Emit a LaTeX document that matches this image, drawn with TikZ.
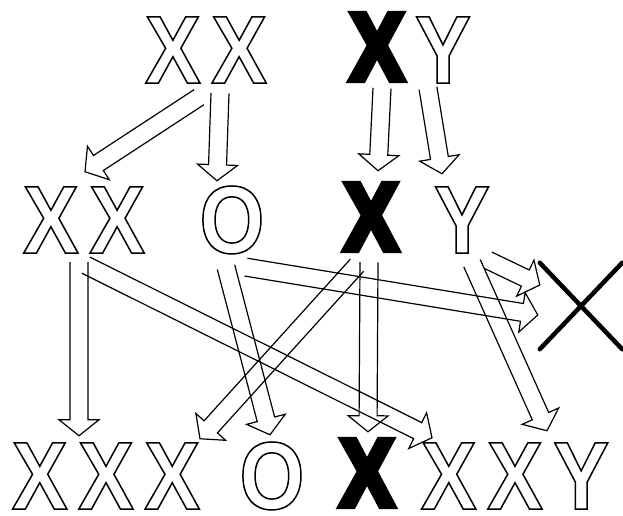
\documentclass[tikz,border=0pt]{standalone}
\usepackage{fontspec}
\usepackage{tikz}
\usetikzlibrary{calc,shapes.misc}
\newfontfamily\lettfont[FakeStretch=0.87,LetterSpace=11]{Liberation Sans Bold}
\newfontfamily\heavyfont[FakeStretch=0.84]{Liberation Sans Bold}
\newcommand\hollowtext[1]{\special{x:gsave}\special{pdf:literal direct 1 Tr 1.5 w}#1\special{x:grestore}}
\newcommand\solidtext[1]{\special{x:gsave}\special{pdf:literal direct 2 Tr 6 w 0 j}#1\special{x:grestore}}

\begin{document}
\begin{tikzpicture}[
    x=1pt, y=-1pt,
    letters/.style={font=\fontsize{96}{100}\selectfont\lettfont, inner sep=0pt, anchor=base},
    heavy/.style={font=\fontsize{96}{100}\selectfont\heavyfont, inner sep=0pt, anchor=base},
    hollow/.style={line width=1.2pt, line join=miter, to path={
        let \p1=(\tikztostart), \p2=(\tikztotarget),
            \n1={atan2(\y2-\y1,\x2-\x1)}, \n2={veclen(\x2-\x1,\y2-\y1)} in
        ([shift={(\p1)},rotate=\n1]0pt,9pt) -- ([shift={(\p1)},rotate=\n1]\n2-16pt,9pt)
        -- ([shift={(\p1)},rotate=\n1]\n2-16pt,20pt) -- (\p2)
        -- ([shift={(\p1)},rotate=\n1]\n2-16pt,-20pt) -- ([shift={(\p1)},rotate=\n1]\n2-16pt,-9pt)
        -- ([shift={(\p1)},rotate=\n1]0pt,-9pt)}}
]
\useasboundingbox (0,0) rectangle (623,515);

\node[letters] (topXX) at (206,83) {\hollowtext{XX}};
\node[heavy] (topX) at (377,80) {\solidtext{X}};
\node[letters] (topY) at (443,83) {\hollowtext{Y}};

\node[letters] (midXX) at (84,253) {\hollowtext{XX}};
\node[letters] (midO) at (232,253) {\hollowtext{O}};
\node[heavy] (midX) at (371,250) {\solidtext{X}};
\node[letters] (midY) at (462,253) {\hollowtext{Y}};
\node[cross out, draw, line width=4.5pt, line cap=round, minimum width=78pt, minimum height=82pt, inner sep=0pt] (dead) at (581,306) {};

\node[letters] (botXXX) at (106,509) {\hollowtext{XXX}};
\node[letters] (botO) at (272,509) {\hollowtext{O}};
\node[heavy] (botX) at (367,506) {\solidtext{X}};
\node[letters] (botXXY) at (515,509) {\hollowtext{XXY}};

\draw[hollow] ([xshift=-7pt,yshift=-14pt]topXX.south) to ([xshift=1pt,yshift=15pt]midXX.north);
\draw[hollow] ([xshift=14pt,yshift=-10pt]topXX.south) to ([xshift=-15pt,yshift=5pt]midO.north);
\draw[hollow] ([xshift=5pt,yshift=-8pt]topX.south) to ([xshift=7pt,yshift=13pt]midX.north);
\draw[hollow] ([xshift=-15pt,yshift=-5pt]topY.south) to ([xshift=-20pt,yshift=13pt]midY.north);
\draw[hollow] ([xshift=-5pt,yshift=-9pt]midXX.south) to ([xshift=-27pt,yshift=7pt]botXXX.north);
\draw[hollow] ([xshift=2pt,yshift=-12pt]midXX.south) to ([xshift=-83pt,yshift=5pt]botXXY.north);
\draw[hollow] ([xshift=-6pt,yshift=-13pt]midO.south) to ([xshift=-2pt,yshift=7pt]botO.north);
\draw[hollow] ([xshift=14pt,yshift=-13pt]midO.south) to ([xshift=-2pt,yshift=-9pt]dead.west);
\draw[hollow] ([xshift=-14pt,yshift=-15pt]midX.south) to ([xshift=94pt,yshift=4pt]botXXX.north);
\draw[hollow] ([xshift=-2pt,yshift=-12pt]midX.south) to ([xshift=1pt,yshift=8pt]botX.north);
\draw[hollow] ([xshift=26pt,yshift=-7pt]midY.south) to ([yshift=21pt]dead.west);
\draw[hollow] ([xshift=10pt,yshift=-10pt]midY.south) to ([xshift=32pt,yshift=12pt]botXXY.north);
\end{tikzpicture}
\end{document}
